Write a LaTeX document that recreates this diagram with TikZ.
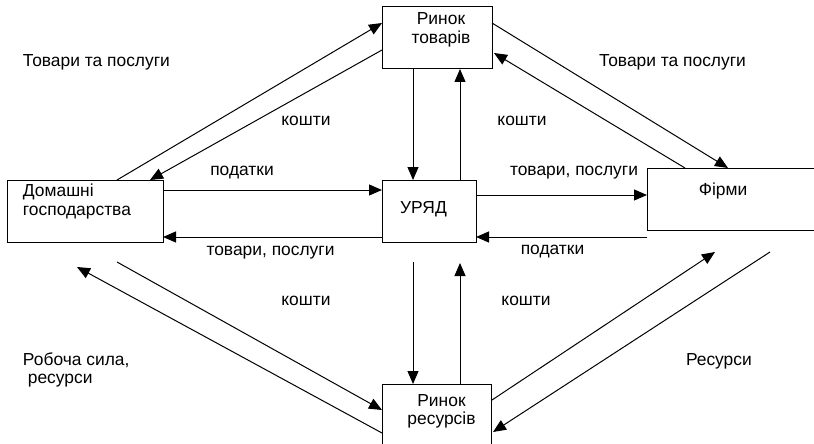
\documentclass[tikz,border=0pt]{standalone}
\usepackage{fontspec}
\setmainfont{Liberation Sans}
\usetikzlibrary{arrows.meta}
\begin{document}
\begin{tikzpicture}[x=1pt,y=-1pt,
  box/.style={draw,line width=1pt,inner sep=0pt,outer sep=0pt,minimum height=62pt},
  txt/.style={font=\fontsize{17.4pt}{20pt}\selectfont,inner sep=0pt,outer sep=0pt},
  arr/.style={line width=1pt,-{Triangle[length=13pt,width=11pt]}}]
\useasboundingbox (0,0) rectangle (814,444);
\clip (0,0) rectangle (814,444);
% boxes
\node[box,minimum width=110pt] (rt) at (437,38) {};
\node[box,minimum width=156pt] (hh) at (85,211) {};
\node[box,minimum width=94pt] (gov) at (429,211) {};
\node[box,minimum width=183pt] (firm) at (738.5,199) {};
\node[box,minimum width=109pt,minimum height=76pt] (rr) at (436.5,422) {};
% box texts
\node[txt,anchor=base] (rt1) at (441,25) {Ринок};
\node[txt,anchor=base] (rt2) at (441,44) {товарів};
\node[txt,anchor=base west] (hh1) at (23,196) {Домашні};
\node[txt,anchor=base west] (hh2) at (23,215) {господарства};
\node[txt,anchor=base] (govt) at (423.5,213) {УРЯД};
\node[txt,anchor=base] (firmt) at (723,195) {Фірми};
\node[txt,anchor=base] (rr1) at (441.5,406) {Ринок};
\node[txt,anchor=base] (rr2) at (441.5,424) {ресурсів};
% labels
\node[txt,anchor=base west] (l1) at (23,66.5) {Товари та послуги};
\node[txt,anchor=base west] (l2) at (599,66.5) {Товари та послуги};
\node[txt,anchor=base] (l3) at (306,125) {кошти};
\node[txt,anchor=base] (l4) at (522,125) {кошти};
\node[txt,anchor=base] (l5) at (242,175) {податки};
\node[txt,anchor=base] (l6) at (574,175) {товари, послуги};
\node[txt,anchor=base] (l7) at (270.5,255) {товари, послуги};
\node[txt,anchor=base] (l8) at (552.5,254) {податки};
\node[txt,anchor=base] (l9) at (306,305) {кошти};
\node[txt,anchor=base] (l10) at (526,305) {кошти};
\node[txt,anchor=base west] (l11) at (23,365) {Робоча сила,};
\node[txt,anchor=base west] (l12) at (23,383) {\ ресурси};
\node[txt,anchor=base west] (l13) at (686,365) {Ресурси};
% connectors
\draw[arr] ([xshift=110pt]hh.north west) -- ([yshift=15pt]rt.west);
\draw[arr] ([yshift=-12pt]rt.west) -- ([xshift=143pt]hh.north west);
\draw[arr] ([yshift=15pt]rt.east) -- ([xshift=81pt]firm.north west);
\draw[arr] ([xshift=38pt]firm.north west) -- ([xshift=2pt,yshift=-15pt]rt.east);
\draw[arr] ([xshift=31pt]rt.south west) -- ([xshift=31pt]gov.north west);
\draw[arr] ([xshift=78pt]gov.north west) -- ([xshift=78pt]rt.south west);
\draw[arr] ([yshift=21pt]hh.east) -- ([yshift=21pt]gov.west);
\draw[arr] ([yshift=16pt]gov.east) -- ([yshift=4pt]firm.west);
\draw[arr] ([yshift=-7pt]firm.south west) -- ([yshift=-26pt]gov.east);
\draw[arr] ([yshift=-26pt]gov.west) -- ([yshift=-26pt]hh.east);
\draw[arr] ([xshift=31pt,yshift=-20pt]gov.south west) -- ([xshift=31pt]rr.north west);
\draw[arr] ([xshift=78pt]rr.north west) -- ([xshift=78pt,yshift=-21pt]gov.south west);
\draw[arr] ([xshift=110pt,yshift=-20pt]hh.south west) -- ([yshift=12pt]rr.west);
\draw[arr] ([yshift=-11pt]rr.west) -- ([xshift=70pt,yshift=-25pt]hh.south west);
\draw[arr] ([xshift=1pt,yshift=22pt]rr.east) -- ([xshift=68pt,yshift=-22pt]firm.south west);
\draw[arr] ([xshift=123pt,yshift=-22pt]firm.south west) -- ([xshift=2pt,yshift=-10pt]rr.east);
\end{tikzpicture}
\end{document}
